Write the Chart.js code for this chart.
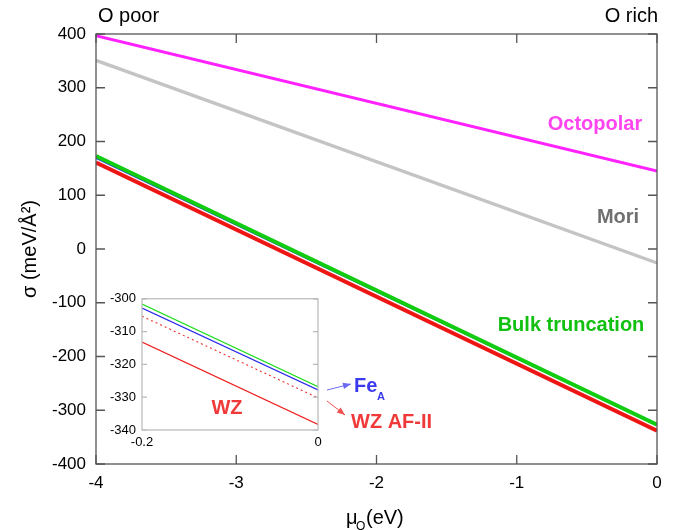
<!DOCTYPE html>
<html>
<head>
<meta charset="utf-8">
<script src="https://cdn.jsdelivr.net/npm/chart.js@4/dist/chart.umd.min.js"></script>
<style>
  html, body { margin: 0; padding: 0; background: #fff; }
  #wrap { position: relative; width: 677px; height: 530px; }
  #main { position: absolute; left: 0; top: 0; }
  #inset { position: absolute; left: 100px; top: 285px; }
</style>
</head>
<body>
<div id="wrap">
  <canvas id="main" width="677" height="530"></canvas>
  <canvas id="inset" width="240" height="170"></canvas>
</div>
<script>
// ---- data ----
const muRange = [-4, 0];
const octopolar = [397, 145];
const mori = [351, -26];
const bulkTruncation = [173, -327];
const feA = [169, -328];
const wz = [161, -338];

const xTicks = [-4, -3, -2, -1, 0];
const yTicks = [-400, -300, -200, -100, 0, 100, 200, 300, 400];

const insetMu = [-0.2, 0];
const insetBulk = [-301.6, -326.8];
const insetFeA = [-302.8, -327.8];
const insetAF2 = [-305.3, -330.2];
const insetWZ = [-313.2, -338.3];
const insetYTicks = [-340, -330, -320, -310, -300];
const insetXTicks = [-0.2, 0];

const FONT = '"Liberation Sans", Arial, sans-serif';
const pts = (xs, ys) => xs.map((x, i) => ({ x: x, y: ys[i] }));

Chart.defaults.font.family = FONT;
Chart.defaults.color = '#000';

function line(label, xs, ys, color, width, dash) {
  return { label, data: pts(xs, ys), borderColor: color, backgroundColor: color,
    borderWidth: width, pointRadius: 0, fill: false, tension: 0,
    borderDash: dash || [], borderCapStyle: 'butt' };
}

const mainDecor = {
  id: 'mainDecor',
  afterDraw(chart) {
    const { ctx, chartArea: a, scales: { x, y } } = chart;
    ctx.save();
    // frame
    ctx.strokeStyle = '#555';
    ctx.lineWidth = 1.3;
    ctx.strokeRect(a.left, a.top, a.right - a.left, a.bottom - a.top);
    // inward ticks
    const tl = 9;
    ctx.beginPath();
    xTicks.forEach(v => {
      const px = x.getPixelForValue(v);
      ctx.moveTo(px, a.bottom); ctx.lineTo(px, a.bottom - tl);
      ctx.moveTo(px, a.top); ctx.lineTo(px, a.top + tl);
    });
    yTicks.forEach(v => {
      const py = y.getPixelForValue(v);
      ctx.moveTo(a.left, py); ctx.lineTo(a.left + tl, py);
      ctx.moveTo(a.right, py); ctx.lineTo(a.right - tl, py);
    });
    ctx.stroke();

    // top labels
    ctx.fillStyle = '#000';
    ctx.font = '20px ' + FONT;
    ctx.textBaseline = 'alphabetic';
    ctx.textAlign = 'left';
    ctx.fillText('O poor', 98, 22);
    ctx.textAlign = 'right';
    ctx.fillText('O rich', 658, 22);

    // series labels
    ctx.font = 'bold 20px ' + FONT;
    ctx.textAlign = 'center';
    ctx.textBaseline = 'middle';
    ctx.fillStyle = '#ff44f0';
    ctx.fillText('Octopolar', 595, 124);
    ctx.fillStyle = '#707070';
    ctx.fillText('Mori', 618, 217);
    ctx.fillStyle = '#11c011';
    ctx.fillText('Bulk truncation', 571, 325);

    // inset annotations
    ctx.textAlign = 'left';
    ctx.textBaseline = 'alphabetic';
    ctx.fillStyle = '#3a3aee';
    ctx.font = 'bold 20px ' + FONT;
    ctx.fillText('Fe', 354, 392);
    ctx.font = 'bold 11px ' + FONT;
    ctx.fillText('A', 377, 400);
    ctx.fillStyle = '#f03a3a';
    ctx.font = 'bold 20px ' + FONT;
    ctx.fillText('WZ AF-II', 351, 428);

    // arrows
    function arrow(x0, y0, x1, y1, color) {
      ctx.strokeStyle = color; ctx.fillStyle = color; ctx.lineWidth = 1;
      ctx.beginPath(); ctx.moveTo(x0, y0); ctx.lineTo(x1, y1); ctx.stroke();
      const ang = Math.atan2(y1 - y0, x1 - x0), L = 8, W = 3.2;
      ctx.beginPath();
      ctx.moveTo(x1, y1);
      ctx.lineTo(x1 - L * Math.cos(ang) + W * Math.sin(ang), y1 - L * Math.sin(ang) - W * Math.cos(ang));
      ctx.lineTo(x1 - L * Math.cos(ang) - W * Math.sin(ang), y1 - L * Math.sin(ang) + W * Math.cos(ang));
      ctx.closePath(); ctx.fill();
    }
    arrow(327, 390, 351, 384, '#6a6af2');
    arrow(327, 401, 345, 415, '#f05050');

    // axis titles
    ctx.fillStyle = '#000';
    ctx.font = '20px ' + FONT;
    ctx.save();
    ctx.translate(36, 249);
    ctx.rotate(-Math.PI / 2);
    ctx.textAlign = 'center';
    ctx.textBaseline = 'alphabetic';
    ctx.fillText('σ (meV/Å²)', 0, 0);
    ctx.restore();

    ctx.textAlign = 'left';
    ctx.textBaseline = 'alphabetic';
    ctx.font = '20px ' + FONT;
    ctx.fillText('μ', 346, 524);
    ctx.font = '12px ' + FONT;
    ctx.fillText('O', 356, 530);
    ctx.font = '20px ' + FONT;
    ctx.fillText('(eV)', 366, 524);
    ctx.restore();
  }
};

new Chart(document.getElementById('main'), {
  type: 'line',
  data: {
    datasets: [
      line('Bulk truncation', muRange, bulkTruncation, '#11cc11', 4.0),
      line('Fe_A', muRange, feA, '#2a2aee', 1.5),
      line('WZ', muRange, wz, '#ee1515', 4.0),
      line('Mori', muRange, mori, '#c4c4c4', 3.4),
      line('Octopolar', muRange, octopolar, '#ff22ff', 3.0)
    ]
  },
  options: {
    responsive: false,
    animation: false,
    devicePixelRatio: 1,
    layout: { padding: { left: 0, right: 20, top: 34, bottom: 0 } },
    plugins: { legend: { display: false }, tooltip: { enabled: false } },
    scales: {
      x: {
        type: 'linear', min: -4, max: 0,
        afterBuildTicks: s => { s.ticks = xTicks.map(v => ({ value: v })); },
        afterFit: s => { s.height = 66; },
        ticks: { font: { size: 17 }, color: '#000', padding: 9, maxRotation: 0 },
        grid: { display: false, drawTicks: false },
        border: { display: false }
      },
      y: {
        type: 'linear', min: -400, max: 400,
        afterBuildTicks: s => { s.ticks = yTicks.map(v => ({ value: v })); },
        afterFit: s => { s.width = 96; },
        ticks: { font: { size: 17 }, color: '#000', padding: 10 },
        grid: { display: false, drawTicks: false },
        border: { display: false }
      }
    }
  },
  plugins: [mainDecor]
});

const insetDecor = {
  id: 'insetDecor',
  afterDraw(chart) {
    const { ctx, chartArea: a, scales: { y } } = chart;
    ctx.save();
    ctx.strokeStyle = '#b8b8b8';
    ctx.lineWidth = 1.2;
    ctx.strokeRect(a.left, a.top, a.right - a.left, a.bottom - a.top);
    ctx.beginPath();
    insetYTicks.forEach(v => {
      const py = y.getPixelForValue(v);
      ctx.moveTo(a.left, py); ctx.lineTo(a.left + 5, py);
      ctx.moveTo(a.right, py); ctx.lineTo(a.right - 5, py);
    });
    ctx.stroke();
    ctx.fillStyle = '#f03a3a';
    ctx.font = 'bold 20px ' + FONT;
    ctx.textAlign = 'center';
    ctx.textBaseline = 'middle';
    ctx.fillText('WZ', 127, 123);
    ctx.restore();
  }
};

new Chart(document.getElementById('inset'), {
  type: 'line',
  data: {
    datasets: [
      line('Bulk truncation', insetMu, insetBulk, '#22dd22', 1.2),
      line('Fe_A', insetMu, insetFeA, '#2a2aee', 1.2),
      line('WZ AF-II', insetMu, insetAF2, '#ee3030', 1.1, [2, 3]),
      line('WZ', insetMu, insetWZ, '#ee2020', 1.2)
    ]
  },
  options: {
    responsive: false,
    animation: false,
    devicePixelRatio: 1,
    layout: { padding: { left: 0, right: 22, top: 11, bottom: 0 } },
    plugins: { legend: { display: false }, tooltip: { enabled: false } },
    scales: {
      x: {
        type: 'linear', min: -0.2, max: 0,
        afterBuildTicks: s => { s.ticks = insetXTicks.map(v => ({ value: v })); },
        afterFit: s => { s.height = 25; },
        ticks: { font: { size: 13 }, color: '#000', padding: 5, maxRotation: 0 },
        grid: { display: false, drawTicks: false },
        border: { display: false }
      },
      y: {
        type: 'linear', min: -340, max: -300,
        afterBuildTicks: s => { s.ticks = insetYTicks.map(v => ({ value: v })); },
        afterFit: s => { s.width = 42; },
        ticks: { font: { size: 13 }, color: '#000', padding: 6 },
        grid: { display: false, drawTicks: false },
        border: { display: false }
      }
    }
  },
  plugins: [insetDecor]
});
</script>
</body>
</html>
